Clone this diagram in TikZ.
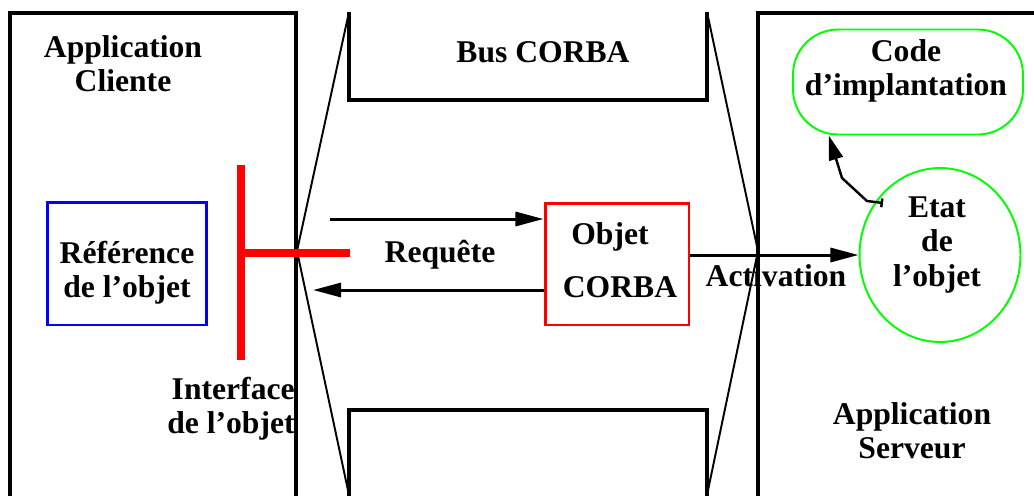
\documentclass[tikz,border=0pt]{standalone}
\usepackage{fontspec}
\setmainfont{Liberation Serif}
\usetikzlibrary{arrows.meta, shapes.geometric}
\definecolor{vertclair}{RGB}{0,255,0}
\tikzset{
	txt/.style={font=\fontsize{18}{19.5}\selectfont\bfseries, align=center, inner sep=0pt},
	arr/.style={line width=1.7pt, -{Triangle[length=16pt, width=8pt]}},
	refbox/.style={draw=blue, line width=1.7pt, minimum width=3.2cm, minimum height=2.46cm},
	objbox/.style={draw=red, line width=1.7pt, minimum width=2.88cm, minimum height=2.44cm},
	etatbox/.style={draw=vertclair, line width=1.1pt, ellipse, minimum width=3.22cm, minimum height=3.48cm},
	codebox/.style={draw=vertclair, line width=1.1pt, rounded corners=0.9cm, minimum width=4.6cm, minimum height=2.1cm},
}
\begin{document}
\begin{tikzpicture}[x=0.02cm, y=-0.02cm]
		\useasboundingbox (0, 0) rectangle (1034, 495);
		% applications
		\draw[line width=2.3pt] (10, 500) -- (10, 13) -- (296, 13) -- (296, 500);
		\draw[line width=2.3pt] (758, 500) -- (758, 13) -- (1040, 13);
		% bus
		\draw[line width=2.3pt] (349, 12) -- (349, 100) -- (707, 100) -- (707, 12);
		\draw[line width=2.3pt] (349, 500) -- (349, 410) -- (707, 410) -- (707, 500);
		\foreach \a/\b in {349/297, 707/758}{
			\draw[line width=1.1pt] (\a, 12) -- (\b, 251) -- (\a, 495);
		}
		% interface
		\draw[red, line width=4.5pt] (241, 165) -- (241, 360);
		\draw[red, line width=4.5pt] (241, 253) -- (350, 253);

		\node[refbox] (ref) at (127, 263.5) {};
		\node[objbox] (objet) at (617, 264) {};
		\node[etatbox] (etat) at (940, 255) {};
		\node[codebox] (code) at (908, 82) {};

		\node[txt] (cliente) at (123, 64) {Application\\Cliente};
		\node[txt] (reftxt) at (127, 273) {Référence\\de l’objet};
		\node[txt, align=right, anchor=east] (interface) at (295, 409) {Interface\\de l’objet};
		\node[txt] (bus) at (543, 52) {Bus CORBA};
		\node[txt] (requete) at (440, 255) {Requête};
		\node[txt] (objtxt) at (610, 237) {Objet};
		\node[txt] (corbatxt) at (620, 287) {CORBA};
		\node[txt] (activation) at (776, 276) {Activation};
		\node[txt] (codetxt) at (906, 71) {Code\\d’implantation};
		\node[txt] (etattxt) at (937, 245) {Etat\\de\\l’objet};
		\node[txt] (serveur) at (912, 431) {Application\\Serveur};

		% requete et reponse
		\coordinate (reqin) at (330, 219);
		\coordinate (repout) at (313, 290);
		\draw[arr] (reqin) -- (reqin -| objet.west);
		\draw[arr] (repout -| objet.west) -- (repout);
		\draw[arr] (objet.east |- etat.west) -- (etat.west);
		% vers le code
		\coordinate (etatin) at (883, 203);
		\draw[line width=1.4pt, {Bar[width=5pt]}-{Triangle[length=14pt, width=8pt]}] (etatin) -- (867, 201) -- (842, 178) -- (code.-146);
	\end{tikzpicture}
\end{document}
